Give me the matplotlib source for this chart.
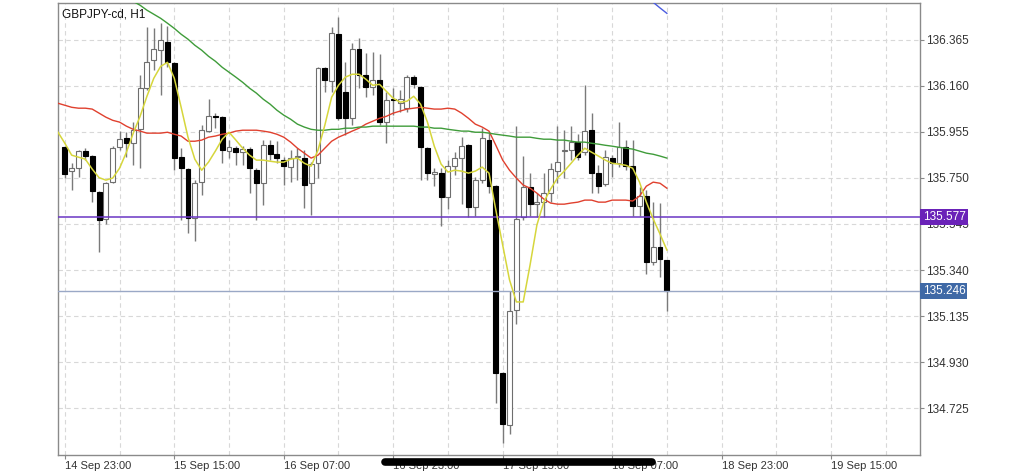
import numpy as np
import matplotlib
matplotlib.use('Agg')
import matplotlib.pyplot as plt
from matplotlib.lines import Line2D
from matplotlib.transforms import blended_transform_factory

plt.rcParams['font.family'] = ['Liberation Sans', 'DejaVu Sans']

symbol = 'GBPJPY-cd, H1'

# hourly candles, first one is 14 Sep 23:00
opens = [135.886, 135.780, 135.793, 135.869, 135.847, 135.687, 135.567, 135.731, 135.886, 135.926,
         135.904, 135.966, 136.149, 136.273, 136.318, 136.353, 136.260, 135.842, 135.789, 135.571,
         135.731, 135.958, 136.024, 136.020, 135.869, 135.882, 135.864, 135.878, 135.784, 135.726,
         135.895, 135.855, 135.829, 135.798, 135.842, 135.838, 135.726, 135.815, 136.238, 136.180,
         136.389, 136.131, 136.015, 136.322, 136.206, 136.153, 136.184, 135.998, 136.100, 136.082,
         136.060, 136.198, 136.153, 135.882, 135.767, 135.771, 135.664, 135.802, 135.838, 135.895,
         135.620, 135.740, 135.918, 135.713, 134.882, 134.651, 135.162, 135.576, 135.709, 135.633,
         135.642, 135.682, 135.780, 135.869, 135.873, 135.909, 135.864, 135.962, 135.771, 135.722,
         135.838, 135.815, 135.886, 135.802, 135.624, 135.669, 135.375, 135.442, 135.384]
highs = [135.891, 135.815, 135.873, 135.882, 135.851, 135.691, 135.731, 135.891, 135.958, 135.953,
         135.998, 136.206, 136.420, 136.415, 136.438, 136.424, 136.264, 135.882, 135.793, 135.740,
         135.984, 136.100, 136.038, 136.024, 135.918, 135.891, 135.891, 135.886, 135.793, 135.918,
         135.918, 135.913, 135.842, 135.873, 135.882, 135.873, 135.820, 136.242, 136.242, 136.420,
         136.464, 136.264, 136.349, 136.371, 136.304, 136.309, 136.300, 136.131, 136.149, 136.140,
         136.206, 136.206, 136.158, 135.886, 135.793, 135.793, 135.829, 135.864, 135.931, 135.900,
         135.753, 135.971, 135.953, 135.718, 134.886, 135.246, 135.980, 135.847, 135.771, 135.682,
         135.771, 135.815, 135.980, 135.962, 135.980, 135.944, 136.162, 136.038, 135.806, 135.873,
         135.851, 135.998, 135.918, 135.918, 135.709, 135.695, 135.642, 135.638, 135.384]
lows = [135.749, 135.695, 135.753, 135.829, 135.642, 135.420, 135.544, 135.726, 135.873, 135.842,
        135.806, 135.793, 136.140, 136.229, 136.118, 136.242, 135.784, 135.562, 135.504, 135.469,
        135.673, 135.953, 135.971, 135.815, 135.838, 135.806, 135.806, 135.682, 135.562, 135.629,
        135.829, 135.815, 135.718, 135.731, 135.740, 135.616, 135.584, 135.749, 136.131, 136.131,
        136.006, 135.940, 135.984, 136.149, 136.109, 136.118, 135.984, 135.904, 136.029, 136.042,
        136.042, 136.149, 135.740, 135.740, 135.713, 135.535, 135.611, 135.762, 135.633, 135.576,
        135.580, 135.726, 135.682, 134.749, 134.571, 134.611, 135.100, 135.562, 135.580, 135.576,
        135.576, 135.642, 135.726, 135.749, 135.829, 135.829, 135.851, 135.682, 135.682, 135.713,
        135.753, 135.798, 135.784, 135.580, 135.580, 135.322, 135.362, 135.309, 135.158]
closes = [135.767, 135.793, 135.869, 135.847, 135.691, 135.562, 135.726, 135.882, 135.922, 135.904,
          135.962, 136.149, 136.264, 136.322, 136.362, 136.264, 135.838, 135.793, 135.571, 135.726,
          135.962, 136.024, 136.020, 135.873, 135.886, 135.864, 135.878, 135.793, 135.726, 135.895,
          135.855, 135.838, 135.802, 135.838, 135.847, 135.718, 135.811, 136.238, 136.184, 136.393,
          136.015, 136.015, 136.322, 136.206, 136.153, 136.184, 135.998, 136.095, 136.095, 136.100,
          136.198, 136.166, 135.886, 135.771, 135.776, 135.664, 135.802, 135.838, 135.891, 135.620,
          135.740, 135.926, 135.713, 134.882, 134.655, 135.158, 135.567, 135.709, 135.633, 135.642,
          135.682, 135.789, 135.820, 135.873, 135.909, 135.842, 135.958, 135.771, 135.713, 135.842,
          135.815, 135.886, 135.802, 135.624, 135.669, 135.375, 135.442, 135.389, 135.246]

# fast (yellow) and medium (red) averages, starting one bar before the first candle
ma_fast = [135.953, 135.904, 135.851, 135.842, 135.833, 135.789, 135.751, 135.740, 135.749, 135.793,
           135.864, 135.949, 136.024, 136.113, 136.193, 136.246, 136.264, 136.193, 136.064, 135.931,
           135.833, 135.784, 135.820, 135.869, 135.922, 135.953, 135.918, 135.882, 135.851, 135.829,
           135.829, 135.824, 135.820, 135.820, 135.833, 135.838, 135.815, 135.802, 135.873, 135.984,
           136.109, 136.162, 136.198, 136.211, 136.211, 136.189, 136.162, 136.166, 136.135, 136.104,
           136.087, 136.091, 136.113, 136.078, 135.998, 135.891, 135.811, 135.776, 135.784, 135.780,
           135.771, 135.780, 135.798, 135.771, 135.607, 135.451, 135.296, 135.198, 135.198, 135.362,
           135.540, 135.642, 135.700, 135.749, 135.780, 135.815, 135.851, 135.882, 135.864, 135.847,
           135.829, 135.815, 135.811, 135.806, 135.793, 135.731, 135.642, 135.567, 135.500, 135.429]
ma_mid = [136.082, 136.073, 136.064, 136.060, 136.060, 136.056, 136.038, 136.020, 136.006, 135.998,
          135.980, 135.966, 135.958, 135.949, 135.949, 135.949, 135.953, 135.944, 135.936, 135.913,
          135.913, 135.918, 135.931, 135.936, 135.944, 135.949, 135.958, 135.962, 135.962, 135.962,
          135.958, 135.953, 135.944, 135.931, 135.909, 135.882, 135.860, 135.838, 135.851, 135.882,
          135.913, 135.931, 135.944, 135.958, 135.971, 135.989, 136.002, 136.015, 136.024, 136.038,
          136.047, 136.056, 136.060, 136.064, 136.060, 136.056, 136.056, 136.060, 136.056, 136.038,
          136.015, 135.989, 135.976, 135.958, 135.895, 135.829, 135.784, 135.749, 135.718, 135.704,
          135.682, 135.656, 135.638, 135.633, 135.633, 135.638, 135.642, 135.651, 135.651, 135.642,
          135.642, 135.651, 135.651, 135.651, 135.647, 135.669, 135.713, 135.731, 135.726, 135.704]
# slow (green) average, from bar 9 on
ma_slow = [136.553, 136.535, 136.518, 136.496, 136.478, 136.460, 136.438, 136.415, 136.389, 136.367,
           136.340, 136.318, 136.291, 136.269, 136.242, 136.220, 136.198, 136.175, 136.149, 136.127,
           136.100, 136.078, 136.051, 136.029, 136.011, 135.989, 135.976, 135.966, 135.962, 135.962,
           135.966, 135.966, 135.971, 135.971, 135.976, 135.976, 135.980, 135.980, 135.980, 135.980,
           135.980, 135.980, 135.980, 135.976, 135.976, 135.971, 135.971, 135.966, 135.962, 135.958,
           135.958, 135.953, 135.953, 135.949, 135.944, 135.940, 135.936, 135.931, 135.931, 135.931,
           135.926, 135.922, 135.922, 135.918, 135.918, 135.913, 135.909, 135.909, 135.904, 135.900,
           135.895, 135.891, 135.886, 135.882, 135.878, 135.869, 135.860, 135.855, 135.847, 135.838]
# the blue one only peeks in at the top right
ma_long = [136.553, 136.531, 136.506, 136.482]

level_line = 135.577
bid_line = 135.246

y_ticks = [136.365, 136.160, 135.955, 135.750, 135.545, 135.340, 135.135, 134.930, 134.725]
x_labels = ['14 Sep 23:00', '15 Sep 15:00', '16 Sep 07:00', '16 Sep 23:00',
            '17 Sep 15:00', '18 Sep 07:00', '18 Sep 23:00', '19 Sep 15:00']

n = len(opens)
x = np.arange(n)
o = np.array(opens)
h = np.array(highs)
l = np.array(lows)
c = np.array(closes)
up = c >= o

fig = plt.figure(figsize=(10.24, 4.73), dpi=100)
ax = fig.add_axes([58 / 1024, 1 - 455 / 473, 862 / 1024, 452 / 473])

ax.set_xlim(-1, 125)
ax.set_ylim(134.517, 136.528)

# grid
ax.set_xticks(np.arange(0, 113, 16))
ax.set_xticks(np.arange(0, 125, 8), minor=True)
ax.set_xticklabels(x_labels)
ax.set_yticks(y_ticks)
ax.set_yticklabels(['%.3f' % v for v in y_ticks])
ax.grid(True, which='both', color='#d8d8d8', linestyle=(0, (4, 3)), linewidth=0.8)
ax.set_axisbelow(True)
ax.yaxis.tick_right()
ax.tick_params(axis='y', which='major', length=3, color='#888888', labelsize=8.5, labelcolor='#333333', pad=1)
ax.tick_params(axis='x', which='major', length=3, color='#888888', labelsize=8, labelcolor='#333333', pad=1)
ax.tick_params(axis='x', which='minor', length=0)
for lbl in ax.get_xticklabels():
    lbl.set_horizontalalignment('left')
for s in ax.spines.values():
    s.set_color('#8a8a8a')
    s.set_linewidth(1)

# candles
ax.vlines(x, l, h, color='#7a7a7a', linewidth=1, zorder=2)
body_bottom = np.minimum(o, c)
body_height = np.maximum(np.abs(c - o), 0.004)
ax.bar(x[up], body_height[up], bottom=body_bottom[up], width=0.72,
       color='white', edgecolor='#6e6e6e', linewidth=0.8, zorder=3)
ax.bar(x[~up], body_height[~up], bottom=body_bottom[~up], width=0.72,
       color='black', edgecolor='black', linewidth=0.8, zorder=3)

# averages
ax.plot(np.arange(-1, n), ma_mid, color='#e0402e', linewidth=1, zorder=4)
ax.plot(np.arange(9, n), ma_slow, color='#3f9c3a', linewidth=1, zorder=4)
ax.plot(np.arange(-1, n), ma_fast, color='#d6d63c', linewidth=1.1, zorder=5)
ax.plot(np.arange(n - 4, n), ma_long, color='#4a5ce0', linewidth=1, zorder=4)

# horizontal levels
ax.axhline(level_line, color='#6a35c4', linewidth=1.1, zorder=4)
ax.axhline(bid_line, color='#9aa8c6', linewidth=1, zorder=4)
trans = blended_transform_factory(ax.transAxes, ax.transData)
ax.text(1.003, level_line, '%.3f' % level_line, transform=trans, fontsize=8.5, color='white',
        va='center', ha='left', zorder=6,
        bbox=dict(boxstyle='square,pad=0.18', facecolor='#6a22b8', edgecolor='none'))
ax.text(1.003, bid_line, '%.3f' % bid_line, transform=trans, fontsize=8.5, color='white',
        va='center', ha='left', zorder=6,
        bbox=dict(boxstyle='square,pad=0.18', facecolor='#3f69a6', edgecolor='none'))

ax.text(0.005, 0.975, symbol, transform=ax.transAxes, fontsize=8.5, color='#111111',
        va='center', ha='left')

# scroll bar over the time axis
fig.add_artist(Line2D([385 / 1024, 652 / 1024], [1 - 462 / 473, 1 - 462 / 473],
                      color='black', linewidth=5.5, solid_capstyle='round'))

fig.savefig('out.png', dpi=100, facecolor='white')
